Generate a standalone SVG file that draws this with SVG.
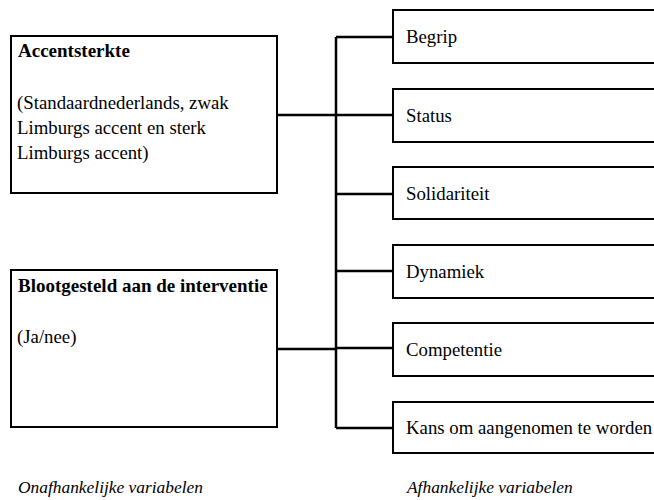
<svg xmlns="http://www.w3.org/2000/svg" width="654" height="500" viewBox="0 0 654 500">
<style>
.box{fill:#fff;stroke:#000;stroke-width:2}
.t{font-family:'Liberation Serif','DejaVu Serif',serif;font-size:18.8px;fill:#000}
.b{font-weight:bold;font-size:19px}
.i{font-family:'Liberation Serif','DejaVu Serif',serif;font-size:17.4px;font-style:italic;fill:#000}
.c{fill:none;stroke:#000;stroke-width:2.5}
</style>
<rect width="654" height="500" fill="#fff"/>
<g id="connectors">
<path class="c" d="M277 115H336M277 349H336M336 37V428M336 37H393M336 115H393M336 194H393M336 271H393M336 348H393M336 428H393"/>
</g>
<g id="accentsterkte">
<rect class="box" x="11" y="36" width="266" height="157"/>
<text class="t b" x="18" y="57">Accentsterkte</text>
<text class="t" x="17" y="109">(Standaardnederlands, zwak</text>
<text class="t" x="17" y="134">Limburgs accent en sterk</text>
<text class="t" x="17" y="159">Limburgs accent)</text>
</g>
<g id="blootgesteld">
<rect class="box" x="11" y="270" width="266" height="157"/>
<text class="t b" x="18" y="292">Blootgesteld aan de interventie</text>
<text class="t" x="17" y="343">(Ja/nee)</text>
</g>
<g id="begrip"><rect class="box" x="393" y="10" width="270" height="53"/><text class="t" x="406" y="43">Begrip</text></g>
<g id="status"><rect class="box" x="393" y="89" width="270" height="53"/><text class="t" x="406" y="122">Status</text></g>
<g id="solidariteit"><rect class="box" x="393" y="167" width="270" height="52"/><text class="t" x="406" y="200">Solidariteit</text></g>
<g id="dynamiek"><rect class="box" x="393" y="245" width="270" height="53"/><text class="t" x="406" y="278">Dynamiek</text></g>
<g id="competentie"><rect class="box" x="393" y="323" width="270" height="53"/><text class="t" x="406" y="356">Competentie</text></g>
<g id="kans"><rect class="box" x="393" y="402" width="270" height="51"/><text class="t" x="406" y="434">Kans om aangenomen te worden</text></g>
<text class="i" x="18" y="493">Onafhankelijke variabelen</text>
<text class="i" x="407" y="493">Afhankelijke variabelen</text>
</svg>
